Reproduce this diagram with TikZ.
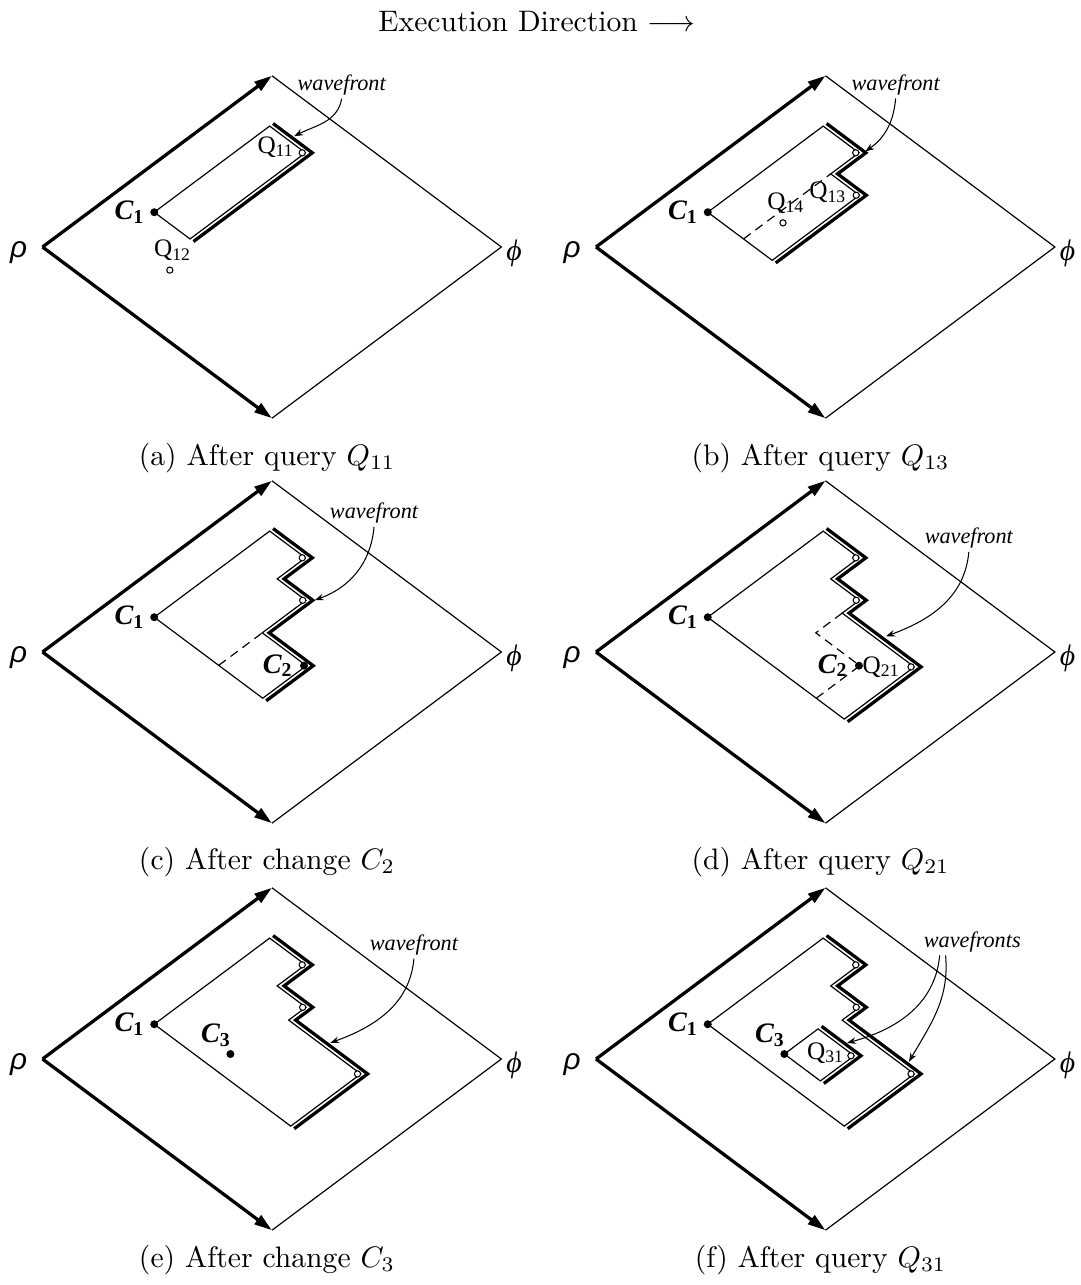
\documentclass[tikz,border=0pt]{standalone}
\usepackage{fontspec}
\usetikzlibrary{arrows.meta}
\newfontfamily\figfont{Liberation Serif}
\newfontfamily\greekfont{Liberation Sans}

\tikzset{
  timeaxis/.style={line width=1.1pt,-{Triangle[length=6pt,width=3.6pt]}},
  rim/.style={line width=0.4pt},
  region/.style={line width=0.4pt},
  wave/.style={line width=1.1pt},
  oldfront/.style={line width=0.4pt,dash pattern=on 3pt off 2pt},
  pointer/.style={line width=0.35pt,-{Stealth[length=3pt,width=2.2pt]}},
  qpoint/.style={circle,draw,fill=white,line width=0.35pt,inner sep=0pt,minimum size=2.1pt},
  cpoint/.style={circle,fill,inner sep=0pt,minimum size=2.7pt},
  clab/.style={font=\figfont\fontsize{9.5}{11}\selectfont\bfseries\itshape,inner sep=1pt},
  qlab/.style={font=\figfont\fontsize{8.5}{10}\selectfont,inner sep=1pt},
  wflab/.style={font=\figfont\fontsize{7.5}{9}\selectfont\itshape,inner sep=1pt},
  subcap/.style={font=\normalsize},
  uv/.style={x={(0.272cm,0.203cm)},y={(0.272cm,-0.203cm)}},
  plane/.pic={
    \coordinate (-rho) at (0,0);
    \coordinate (-top) at (10,0);
    \coordinate (-bot) at (0,10);
    \coordinate (-phi) at (10,10);
    \draw[rim] (-top) -- (-phi) -- (-bot);
    \draw[timeaxis] (-rho) -- (-top);
    \draw[timeaxis] (-rho) -- (-bot);
    \node[font=\greekfont\fontsize{10}{12}\selectfont\itshape,anchor=east,
          inner sep=0pt,xshift=-5pt,yshift=-2pt] (-rholab) at (-rho) {ρ};
    \node[font=\figfont\fontsize{10}{12}\selectfont\itshape,anchor=west,
          inner sep=0pt,xshift=1.5pt,yshift=-2pt] (-philab) at (-phi) {ϕ};
  }
}

\begin{document}
\begin{tikzpicture}[x=0.01185cm,y=0.01185cm]
  \useasboundingbox (0,0) rectangle (1080,-1285);
  \node (title) at (537,-22) {Execution Direction $\longrightarrow$};

  % (a)
  \begin{scope}[shift={(42.5,-247)},uv]
    \pic (a) {plane};
    \draw[region] (3.45,1.42) -- (8.48,1.42) -- (8.48,2.98) -- (3.45,2.98) -- cycle;
    \draw[wave] (8.63,1.42) -- (8.63,3.13) -- (3.45,3.13);
    \node[cpoint] (ac1) at (3.45,1.42) {};
    \node[clab,left=2pt] (ac1l) at (ac1) {C\textsubscript{\upshape 1}};
    \node[qpoint] (aq11) at (8.41,2.91) {};
    \node[qlab,left=1.5pt,yshift=2pt] (aq11l) at (aq11) {Q\textsubscript{11}};
    \node[qpoint] (aq12) at (2.1,3.45) {};
    \node[qlab,above=2pt,xshift=1pt] (aq12l) at (aq12) {Q\textsubscript{12}};
    \node[wflab] (awf) at (11.25,1.79) {wavefront};
    \coordinate (atip) at (8.72,2.25);
  \end{scope}
  \draw[pointer] (awf.south) to[out=-100,in=27] (atip);
  \node[subcap] (capa) at (267,-458) {(a) After query $Q_{11}$};

  % (b)
  \begin{scope}[shift={(596,-247)},uv]
    \pic (b) {plane};
    \draw[region] (3.45,1.42) -- (8.48,1.42) -- (8.48,2.98) -- (7.25,2.98)
      -- (7.25,4.23) -- (3.45,4.23) -- cycle;
    \draw[oldfront] (3.45,2.98) -- (7.25,2.98);
    \draw[wave] (8.63,1.42) -- (8.63,3.13) -- (7.40,3.13) -- (7.40,4.38) -- (3.45,4.38);
    \node[cpoint] (bc1) at (3.45,1.42) {};
    \node[clab,left=2pt] (bc1l) at (bc1) {C\textsubscript{\upshape 1}};
    \node[qpoint] (bq11) at (8.41,2.91) {};
    \node[qpoint] (bq13) at (7.18,4.16) {};
    \node[qlab,left=2pt,yshift=1pt] (bq13l) at (bq13) {Q\textsubscript{13}};
    \node[qpoint] (bq14) at (4.78,3.37) {};
    \node[qlab,above=2pt,xshift=1pt] (bq14l) at (bq14) {Q\textsubscript{14}};
    \node[wflab] (bwf) at (11.27,1.79) {wavefront};
    \coordinate (btip) at (8.66,3.08);
  \end{scope}
  \draw[pointer] (bwf.south) to[out=-95,in=35] (btip);
  \node[subcap] (capb) at (820.5,-458) {(b) After query $Q_{13}$};

  % (c)
  \begin{scope}[shift={(42.5,-652)},uv]
    \pic (c) {plane};
    \draw[region] (3.45,1.42) -- (8.48,1.42) -- (8.48,2.98) -- (7.25,2.98)
      -- (7.25,4.23) -- (5.35,4.23) -- (5.35,6.15) -- (3.45,6.15) -- cycle;
    \draw[oldfront] (3.45,4.23) -- (5.35,4.23);
    \draw[wave] (8.63,1.42) -- (8.63,3.13) -- (7.40,3.13) -- (7.40,4.38)
      -- (5.50,4.38) -- (5.50,6.30) -- (3.45,6.30);
    \node[cpoint] (cc1) at (3.45,1.42) {};
    \node[clab,left=2pt] (cc1l) at (cc1) {C\textsubscript{\upshape 1}};
    \node[qpoint] (cq11) at (8.41,2.91) {};
    \node[qpoint] (cq13) at (7.18,4.16) {};
    \node[cpoint] (cc2) at (5.30,6.10) {};
    \node[clab,left=2.5pt] (cc2l) at (cc2) {C\textsubscript{\upshape 2}};
    \node[wflab] (cwf) at (11.28,3.17) {wavefront};
    \coordinate (ctip) at (7.45,4.42);
  \end{scope}
  \draw[pointer] (cwf.south) to[out=-95,in=20] (ctip);
  \node[subcap] (capc) at (267,-862) {(c) After change $C_2$};

  % (d)
  \begin{scope}[shift={(596,-652)},uv]
    \pic (d) {plane};
    \draw[region] (3.45,1.42) -- (8.48,1.42) -- (8.48,2.98) -- (7.25,2.98)
      -- (7.25,4.23) -- (6.50,4.23) -- (6.50,7.37) -- (3.45,7.37) -- cycle;
    \draw[oldfront] (6.50,4.23) -- (5.35,4.23) -- (5.35,6.15) -- (3.45,6.15);
    \draw[wave] (8.63,1.42) -- (8.63,3.13) -- (7.40,3.13) -- (7.40,4.38)
      -- (6.65,4.38) -- (6.65,7.52) -- (3.45,7.52);
    \node[cpoint] (dc1) at (3.45,1.42) {};
    \node[clab,left=2pt] (dc1l) at (dc1) {C\textsubscript{\upshape 1}};
    \node[qpoint] (dq11) at (8.41,2.91) {};
    \node[qpoint] (dq13) at (7.18,4.16) {};
    \node[cpoint] (dc2) at (5.33,6.13) {};
    \node[clab,left=2.5pt] (dc2l) at (dc2) {C\textsubscript{\upshape 2}};
    \node[qpoint] (dq21) at (6.43,7.30) {};
    \node[qlab,left=2.5pt] (dq21l) at (dq21) {Q\textsubscript{21}};
    \node[wflab] (dwf) at (11.45,4.80) {wavefront};
    \coordinate (dtip) at (6.78,5.86);
  \end{scope}
  \draw[pointer] (dwf.south) to[out=-95,in=20] (dtip);
  \node[subcap] (capd) at (820.5,-862) {(d) After query $Q_{21}$};

  % (e)
  \begin{scope}[shift={(42.5,-1059)},uv]
    \pic (e) {plane};
    \draw[region] (3.45,1.42) -- (8.48,1.42) -- (8.48,2.98) -- (7.25,2.98)
      -- (7.25,4.23) -- (6.50,4.23) -- (6.50,7.37) -- (3.45,7.37) -- cycle;
    \draw[wave] (8.63,1.42) -- (8.63,3.13) -- (7.40,3.13) -- (7.40,4.38)
      -- (6.65,4.38) -- (6.65,7.52) -- (3.45,7.52);
    \node[cpoint] (ec1) at (3.45,1.42) {};
    \node[clab,left=2pt] (ec1l) at (ec1) {C\textsubscript{\upshape 1}};
    \node[qpoint] (eq11) at (8.41,2.91) {};
    \node[qpoint] (eq13) at (7.18,4.16) {};
    \node[qpoint] (eq21) at (6.43,7.30) {};
    \node[cpoint] (ec3) at (4.24,3.95) {};
    \node[clab,anchor=south east,xshift=1.5pt,yshift=1.2pt] (ec3l) at (ec3) {C\textsubscript{\upshape 3}};
    \node[wflab] (ewf) at (11.43,4.76) {wavefront};
    \coordinate (etip) at (6.74,5.80);
  \end{scope}
  \draw[pointer] (ewf.south) to[out=-95,in=20] (etip);
  \node[subcap] (cape) at (267,-1260) {(e) After change $C_3$};

  % (f)
  \begin{scope}[shift={(596,-1059)},uv]
    \pic (f) {plane};
    \draw[region] (3.45,1.42) -- (8.48,1.42) -- (8.48,2.98) -- (7.25,2.98)
      -- (7.25,4.23) -- (6.50,4.23) -- (6.50,7.37) -- (3.45,7.37) -- cycle;
    \draw[wave] (8.63,1.42) -- (8.63,3.13) -- (7.40,3.13) -- (7.40,4.38)
      -- (6.65,4.38) -- (6.65,7.52) -- (3.45,7.52);
    \draw[region] (4.25,3.96) -- (5.72,3.96) -- (5.72,5.53) -- (4.25,5.53) -- cycle;
    \draw[wave] (5.87,3.96) -- (5.87,5.68) -- (4.25,5.68);
    \node[cpoint] (fc1) at (3.45,1.42) {};
    \node[clab,left=2pt] (fc1l) at (fc1) {C\textsubscript{\upshape 1}};
    \node[qpoint] (fq11) at (8.41,2.91) {};
    \node[qpoint] (fq13) at (7.18,4.16) {};
    \node[qpoint] (fq21) at (6.43,7.30) {};
    \node[cpoint] (fc3) at (4.25,3.96) {};
    \node[clab,anchor=south east,xshift=1.5pt,yshift=1.2pt] (fc3l) at (fc3) {C\textsubscript{\upshape 3}};
    \node[qpoint] (fq31) at (5.65,5.46) {};
    \node[qlab,left=1pt,yshift=1pt] (fq31l) at (fq31) {Q\textsubscript{31}};
    \node[wflab] (fwf) at (11.63,4.77) {wavefronts};
    \coordinate (ftipa) at (5.94,5.00);
    \coordinate (ftipb) at (6.74,6.90);
  \end{scope}
  \draw[pointer] ([xshift=-11pt]fwf.south) to[out=-95,in=15] (ftipa);
  \draw[pointer] ([xshift=-9pt]fwf.south) to[out=-85,in=60] (ftipb);
  \node[subcap] (capf) at (820.5,-1260) {(f) After query $Q_{31}$};
\end{tikzpicture}
\end{document}
